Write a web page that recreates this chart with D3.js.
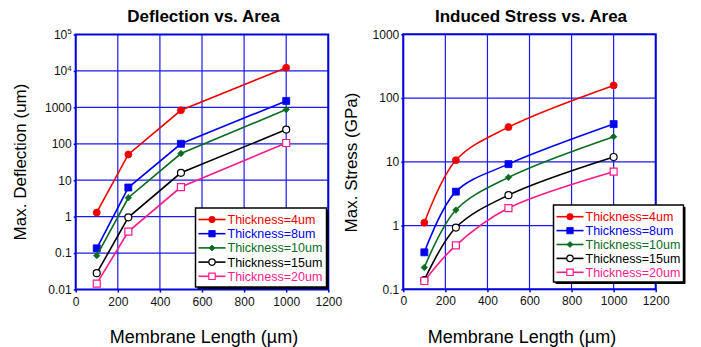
<!DOCTYPE html>
<html>
<head>
<meta charset="utf-8">
<script src="https://cdn.jsdelivr.net/npm/d3@7"></script>
<style>
  body { margin: 0; background: #fff; }
  svg { display: block; font-family: Arial, "Liberation Sans", sans-serif; }
</style>
</head>
<body>
<svg id="chart" width="701" height="347"></svg>
<script>
// membrane length (um) at each measured point
const lengths = [100, 250, 500, 1000];
const seriesNames = ["Thickness=4um", "Thickness=8um", "Thickness=10um", "Thickness=15um", "Thickness=20um"];

// max deflection (um)
const deflectionT4 = [1.3, 51, 830, 12300];
const deflectionT8 = [0.135, 6.3, 100, 1500];
const deflectionT10 = [0.085, 3.3, 54, 870];
const deflectionT15 = [0.028, 0.96, 16, 245];
const deflectionT20 = [0.0145, 0.39, 6.5, 105];

// max stress (GPa)
const stressT4 = [1.11, 10.6, 35, 158];
const stressT8 = [0.38, 3.4, 9.2, 39];
const stressT10 = [0.22, 1.75, 5.7, 24.8];
const stressT15 = [0.14, 0.93, 3.0, 11.9];
const stressT20 = [0.135, 0.49, 1.88, 7.0];

const xTicks = [0, 200, 400, 600, 800, 1000, 1200];
const deflectionTicks = [0.01, 0.1, 1, 10, 100, 1000, 1e4, 1e5];
const stressTicks = [0.1, 1, 10, 100, 1000];

const colors = ["#ee0000", "#0000ee", "#0b6b1f", "#000000", "#ff1a8c"];
const markers = ["circle", "square", "diamond", "opencircle", "opensquare"];

const svg = d3.select("#chart");

function markerPath(type, s) {
  if (type === "circle" || type === "opencircle")
    return d3.symbol(d3.symbolCircle, Math.PI * s * s)();
  if (type === "diamond")
    return `M0,${-s}L${s},0L0,${s}L${-s},0Z`;
  return d3.symbol(d3.symbolSquare, 4 * s * s)();
}

function drawMarker(g, type, color, s) {
  const open = type === "opencircle" || type === "opensquare";
  g.append("path")
    .attr("d", markerPath(type, s))
    .attr("fill", open ? "#fff" : color)
    .attr("stroke", color)
    .attr("stroke-width", open ? 1.2 : 0.8);
}

function drawPanel(opt) {
  const g = svg.append("g");
  const x = d3.scaleLinear().domain([0, 1200]).range([opt.left, opt.right]);
  const y = d3.scaleLog().domain(opt.yDomain).range([opt.bottom, opt.top]);

  // grid
  g.append("g").selectAll("line").data(xTicks).join("line")
    .attr("x1", d => x(d)).attr("x2", d => x(d))
    .attr("y1", opt.top).attr("y2", opt.bottom)
    .attr("stroke", "#1a1aee").attr("stroke-width", 1.2);
  g.append("g").selectAll("line").data(opt.yTicks).join("line")
    .attr("x1", opt.left).attr("x2", opt.right)
    .attr("y1", d => y(d)).attr("y2", d => y(d))
    .attr("stroke", "#1a1aee").attr("stroke-width", 1.2);

  // axes
  const xAxis = g.append("g")
    .attr("transform", `translate(0,${opt.bottom})`)
    .call(d3.axisBottom(x).tickValues(xTicks).tickSize(3).tickPadding(4.5).tickFormat(d3.format("d")));
  const yAxis = g.append("g")
    .attr("transform", `translate(${opt.left},0)`)
    .call(d3.axisLeft(y).tickValues(opt.yTicks).tickSize(2).tickPadding(2).tickFormat(opt.yFormat));
  [xAxis, yAxis].forEach(a => {
    a.select(".domain").remove();
    a.selectAll(".tick line").attr("stroke", "#0000dd").attr("stroke-width", 1.5);
    a.selectAll(".tick text").attr("fill", "#111").style("font-size", "12px").style("font-family", "Arial, 'Liberation Sans', sans-serif");
  });
  yAxis.selectAll(".tick text").each(function(d) {
    if (d >= 1e4) {
      const t = d3.select(this);
      t.text("10");
      t.append("tspan").attr("dy", "-0.55em").style("font-size", "8px").text(Math.round(Math.log10(d)));
    }
  });

  // plot border
  g.append("rect")
    .attr("x", opt.left).attr("y", opt.top)
    .attr("width", opt.right - opt.left).attr("height", opt.bottom - opt.top)
    .attr("fill", "none").attr("stroke", "#0000dd").attr("stroke-width", 2);

  // series
  const line = d3.line().x(d => x(d[0])).y(d => y(d[1])).curve(opt.curve);
  opt.series.forEach((vals, i) => {
    const pts = lengths.map((l, j) => [l, vals[j]]);
    g.append("path").datum(pts)
      .attr("d", line).attr("fill", "none")
      .attr("stroke", colors[i]).attr("stroke-width", 1.6);
    pts.forEach(p => {
      const m = g.append("g").attr("transform", `translate(${x(p[0])},${y(p[1])})`);
      drawMarker(m, markers[i], colors[i], markers[i] === "diamond" ? 3.2 : 3.5);
    });
  });

  // titles
  g.append("text")
    .attr("x", opt.titleX).attr("y", 22).attr("text-anchor", "middle")
    .style("font-size", "17px").style("font-weight", "bold").text(opt.title);
  g.append("text")
    .attr("x", opt.xLabelX).attr("y", 343).attr("text-anchor", "middle")
    .style("font-size", "18px").text("Membrane Length (\u00b5m)");
  g.append("text")
    .attr("transform", `translate(${opt.yLabelX},${opt.yLabelY}) rotate(-90)`)
    .attr("text-anchor", "middle")
    .style("font-size", "17px").text(opt.yLabel);

  // legend
  const lg = svg.append("g").attr("transform", `translate(${opt.legend[0]},${opt.legend[1]})`);
  const lw = opt.legend[2], lh = opt.legend[3];
  lg.append("rect").attr("x", 2).attr("y", 2).attr("width", lw).attr("height", lh).attr("fill", "#000");
  lg.append("rect").attr("width", lw).attr("height", lh)
    .attr("fill", "#fff").attr("stroke", "#000").attr("stroke-width", 1.5);
  seriesNames.forEach((name, i) => {
    const ry = opt.legendRow0 + i * opt.legendStep;
    lg.append("line").attr("x1", 3).attr("x2", 30).attr("y1", ry).attr("y2", ry)
      .attr("stroke", colors[i]).attr("stroke-width", 1.6);
    const m = lg.append("g").attr("transform", `translate(16.5,${ry})`);
    drawMarker(m, markers[i], colors[i], markers[i] === "diamond" ? 3 : 3.2);
    lg.append("text").attr("x", 32).attr("y", ry + 4.5)
      .attr("fill", colors[i]).style("font-size", "12.5px").text(name);
  });
}

drawPanel({
  left: 75.7, right: 328.3, top: 34.5, bottom: 289.5,
  yDomain: [0.01, 1e5], yTicks: deflectionTicks,
  yFormat: d => d < 1 ? String(d) : d3.format("d")(d),
  series: [deflectionT4, deflectionT8, deflectionT10, deflectionT15, deflectionT20],
  curve: d3.curveLinear,
  title: "Deflection vs. Area", titleX: 203.5,
  xLabelX: 204, yLabel: "Max. Deflection (um)", yLabelX: 26, yLabelY: 162,
  legend: [195.5, 208, 131, 79], legendRow0: 11.5, legendStep: 14.2
});

drawPanel({
  left: 403.3, right: 655.7, top: 34.3, bottom: 289.3,
  yDomain: [0.1, 1000], yTicks: stressTicks,
  yFormat: d => d < 1 ? String(d) : d3.format("d")(d),
  series: [stressT4, stressT8, stressT10, stressT15, stressT20],
  curve: d3.curveCatmullRom.alpha(0.5),
  title: "Induced Stress vs. Area", titleX: 531,
  xLabelX: 522, yLabel: "Max. Stress (GPa)", yLabelX: 357, yLabelY: 162.5,
  legend: [553.5, 205, 130, 77], legendRow0: 11.7, legendStep: 13.9
});
</script>
</body>
</html>
